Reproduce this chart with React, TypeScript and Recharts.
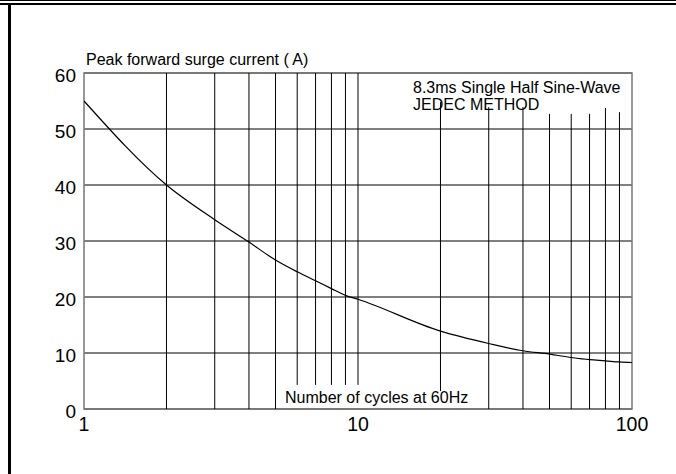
import React from "react";
import {
  LineChart,
  Line,
  XAxis,
  YAxis,
  CartesianGrid,
  ReferenceLine,
  ReferenceArea,
} from "recharts";

const cycles = [1, 2, 3, 4, 5, 6, 7, 8, 9, 10, 20, 30, 40, 50, 60, 70, 80, 90, 100];
const current = [55, 40, 33.8, 29.8, 26.6, 24.5, 22.9, 21.5, 20.3, 19.6, 13.9, 11.7, 10.4, 9.8, 9.2, 8.8, 8.6, 8.4, 8.3];

const xTicks = [1, 10, 100];
const yTicks = [0, 10, 20, 30, 40, 50, 60];

const gridX = [2, 3, 4, 5, 6, 7, 8, 9, 10, 20, 30, 40, 50, 60, 70, 80, 90];
const gridTop = [60, 60, 60, 60, 60, 60, 60, 60, 60, 54.8, 53.9, 53.9, 52.7, 52.7, 52.7, 53.75, 53.0];
const gridBottom = [0, 0, 0, 0, 4.3, 4.3, 4.3, 4.3, 4.3, 3.2, 0, 0, 0, 0, 0, 0, 0];

const yTitle = "Peak forward surge current ( A)";
const xTitle = "Number of cycles at 60Hz";
const note1 = "8.3ms Single Half Sine-Wave";
const note2 = "JEDEC METHOD";

const data = cycles.map((c, i) => ({ cycles: c, current: current[i] }));

const FONT = "'Liberation Sans', Arial, sans-serif";

export default function App() {
  return (
    <div style={{ position: "absolute", left: 0, top: 0, width: 676, height: 474, background: "#fff" }}>
      <div style={{ position: "absolute", left: 0, top: 0, width: 676, height: 1, background: "#000" }} />
      <div style={{ position: "absolute", left: 0, top: 3, width: 676, height: 2, background: "#000" }} />
      <div style={{ position: "absolute", left: 8, top: 3, width: 3, height: 471, background: "#000" }} />
      <LineChart
        width={676}
        height={474}
        data={data}
        margin={{ top: 73, right: 44, bottom: 35, left: 44 }}
        style={{ fontFamily: FONT }}
      >
        <CartesianGrid vertical={false} stroke="#000" strokeWidth={1} />
        {gridX.map((gx, i) => (
          <ReferenceLine
            key={gx}
            segment={[
              { x: gx, y: gridBottom[i] },
              { x: gx, y: gridTop[i] },
            ]}
            stroke="#000"
            strokeWidth={1}
          />
        ))}
        <ReferenceArea x1={1} x2={100} y1={0} y2={60} fill="none" stroke="#777" strokeWidth={1.5} />
        <XAxis
          dataKey="cycles"
          type="number"
          scale="log"
          domain={[1, 100]}
          ticks={xTicks}
          height={30}
          tickLine={false}
          axisLine={false}
          tick={{ fill: "#000", fontSize: 19.5, fontFamily: FONT }}
          allowDataOverflow
        />
        <YAxis
          type="number"
          domain={[0, 60]}
          ticks={yTicks}
          width={40}
          tickLine={false}
          axisLine={false}
          tick={{ fill: "#000", fontSize: 19, fontFamily: FONT, dy: 2 }}
        />
        <Line
          dataKey="current"
          type="monotone"
          stroke="#000"
          strokeWidth={1.2}
          dot={false}
          isAnimationActive={false}
        />
        <text x={86} y={65} fontSize={16} fontFamily={FONT} fill="#000">{yTitle}</text>
        <text x={285} y={403} fontSize={16} fontFamily={FONT} fill="#000">{xTitle}</text>
        <text x={413} y={93} fontSize={16} fontFamily={FONT} fill="#000">{note1}</text>
        <text x={413} y={110} fontSize={16} fontFamily={FONT} fill="#000">{note2}</text>
      </LineChart>
    </div>
  );
}
